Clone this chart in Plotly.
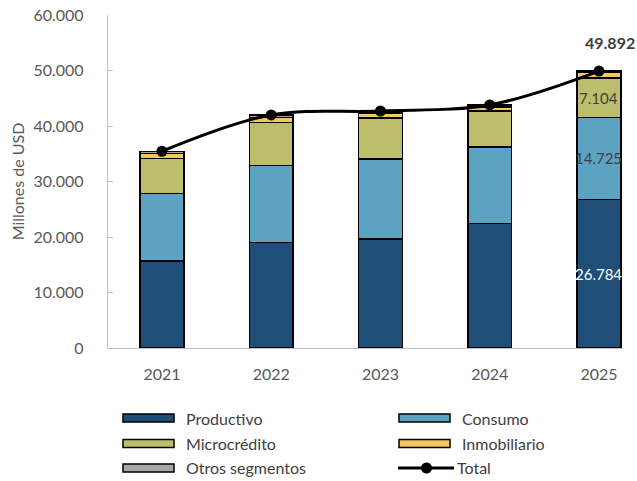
import plotly.graph_objects as go

# Cartera por segmento, millones de USD
years = ["2021", "2022", "2023", "2024", "2025"]
productivo = [15700, 19000, 19600, 22450, 26784]
consumo = [12150, 13850, 14450, 13800, 14725]
microcredito = [6300, 7750, 7350, 6450, 7104]
inmobiliario = [900, 900, 900, 750, 1000]
otros = [400, 500, 400, 350, 279]
total = [sum(v) for v in zip(productivo, consumo, microcredito, inmobiliario, otros)]

segments = [
    ("Productivo", productivo, "#1F4E79"),
    ("Consumo", consumo, "#5BA3C1"),
    ("Microcrédito", microcredito, "#BDBE6B"),
    ("Inmobiliario", inmobiliario, "#F2C95E"),
    ("Otros segmentos", otros, "#A6A6A6"),
]

W, H = 637, 481
ML, MR, MT, MB = 108, 14, 15, 133
PW, PH = W - ML - MR, H - MT - MB
FONT = "Lato"
GREY_TXT = "#595959"
DARK_TXT = "#404040"


def fmt(v):
    return f"{v:,}".replace(",", ".")


fig = go.Figure()
for name, vals, col in segments:
    fig.add_trace(go.Bar(
        x=years, y=vals, name=name, width=0.40,
        marker=dict(color=col, line=dict(color="#000000", width=1.5)),
        showlegend=False, hoverinfo="y+name",
    ))

fig.add_trace(go.Scatter(
    x=years, y=total, name="Total", mode="lines+markers",
    line=dict(color="#000000", width=3, shape="spline"),
    marker=dict(color="#000000", size=11),
    showlegend=False,
))

# Value labels on the last year (category index used for x)
last = len(years) - 1
base = 0
for (name, vals, col), tcol in zip(segments[:3], ["#FFFFFF", DARK_TXT, DARK_TXT]):
    v = vals[last]
    fig.add_annotation(
        xref="x", yref="y", x=last, y=base + v / 2, text=fmt(v),
        showarrow=False, font=dict(family=FONT, size=15, color=tcol),
    )
    base += v

fig.add_annotation(
    xref="x", yref="y", x=last, y=total[last], text="<b>" + fmt(total[last]) + "</b>",
    showarrow=False, yshift=29, xshift=11,
    font=dict(family=FONT, size=16, color=DARK_TXT),
)


# Legend drawn as swatches + labels
def px_x(p):
    return (p - ML) / PW


def px_y(p):
    return (H - MB - p) / PH


legend_items = [
    ("Productivo", "#1F4E79", 123, 418),
    ("Consumo", "#5BA3C1", 399, 418),
    ("Microcrédito", "#BDBE6B", 123, 443.5),
    ("Inmobiliario", "#F2C95E", 399, 443.5),
    ("Otros segmentos", "#A6A6A6", 123, 468),
]
for label, col, x0, yc in legend_items:
    fig.add_shape(
        type="rect", xref="paper", yref="paper",
        x0=px_x(x0), x1=px_x(x0 + 51), y0=px_y(yc - 4), y1=px_y(yc + 4),
        fillcolor=col, line=dict(color="#000000", width=1.5),
    )
    fig.add_annotation(
        xref="paper", yref="paper", x=px_x(x0 + 61), y=px_y(yc),
        text=label, showarrow=False, xanchor="left", yanchor="middle",
        font=dict(family=FONT, size=16, color=DARK_TXT),
    )

# Total legend entry: line with marker
fig.add_shape(
    type="line", xref="paper", yref="paper",
    x0=px_x(398), x1=px_x(454), y0=px_y(468), y1=px_y(468),
    line=dict(color="#000000", width=3),
)
fig.add_shape(
    type="circle", xref="paper", yref="paper",
    x0=px_x(421), x1=px_x(432), y0=px_y(462.5), y1=px_y(473.5),
    fillcolor="#000000", line=dict(color="#000000", width=0),
)
fig.add_annotation(
    xref="paper", yref="paper", x=px_x(455), y=px_y(468),
    text="Total", showarrow=False, xanchor="left", yanchor="middle",
    font=dict(family=FONT, size=16, color=DARK_TXT),
)

fig.update_layout(
    width=W, height=H,
    margin=dict(l=ML, r=MR, t=MT, b=MB, autoexpand=False),
    barmode="stack",
    plot_bgcolor="#FFFFFF", paper_bgcolor="#FFFFFF",
    separators=",.",
    font=dict(family=FONT, size=15, color=GREY_TXT),
    xaxis=dict(
        type="category", range=[-0.494, 4.22],
        showline=True, linecolor="#BFBFBF", linewidth=1.3,
        ticks="", showgrid=False, zeroline=False,
        ticklabelstandoff=12,
        tickfont=dict(family=FONT, size=16, color=GREY_TXT),
    ),
    yaxis=dict(
        range=[0, 60000], dtick=10000, tickformat=",d",
        showline=True, linecolor="#BFBFBF", linewidth=1.3,
        ticks="inside", ticklen=5, tickcolor="#BFBFBF",
        showgrid=False, zeroline=False,
        ticklabelstandoff=20,
        tickfont=dict(family=FONT, size=16, color=GREY_TXT),
        title=dict(text="Millones de USD", standoff=4,
                   font=dict(family=FONT, size=16, color=GREY_TXT)),
    ),
)

fig.write_html("out.html")
